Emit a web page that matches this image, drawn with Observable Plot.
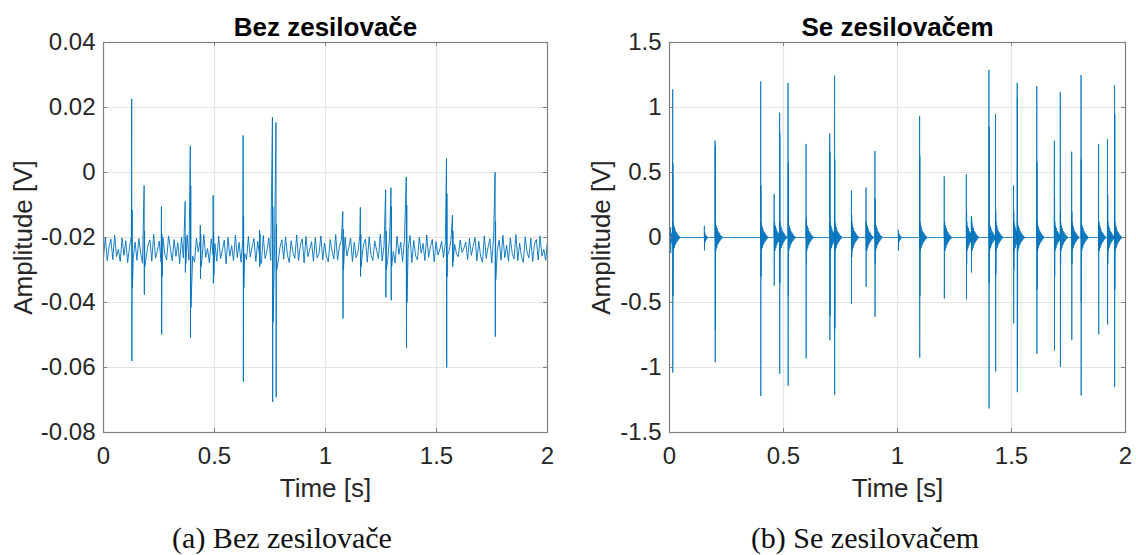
<!DOCTYPE html>
<html><head><meta charset="utf-8">
<script src="https://cdn.jsdelivr.net/npm/d3@7"></script>
<script src="https://cdn.jsdelivr.net/npm/@observablehq/plot@0.6"></script>
<style>
html,body{margin:0;padding:0;background:#fff;}
#wrap{position:relative;width:1136px;height:555px;overflow:hidden;background:#fff;}
.panel{position:absolute;top:0;}
.cap{position:absolute;top:521px;font-family:"Liberation Serif","DejaVu Serif",serif;font-size:30px;line-height:34px;color:#111;white-space:nowrap;transform:translateX(-50%);}
</style></head><body>
<div id="wrap"></div>
<script>
// ---- axis ticks ----
const xTicks = [0, 0.5, 1, 1.5, 2];
const xTickLabels = ["0", "0.5", "1", "1.5", "2"];
const leftYTicks = [-0.08, -0.06, -0.04, -0.02, 0, 0.02, 0.04];
const leftYLabels = ["-0.08", "-0.06", "-0.04", "-0.02", "0", "0.02", "0.04"];
const rightYTicks = [-1.5, -1, -0.5, 0, 0.5, 1, 1.5];
const rightYLabels = ["-1.5", "-1", "-0.5", "0", "0.5", "1", "1.5"];

const titles = ["Bez zesilovače", "Se zesilovačem"];
const captions = ["(a) Bez zesilovače", "(b) Se zesilovačem"];
const xLabel = "Time [s]";
const yLabel = "Amplitude [V]";

// ---- (a) hum baseline without amplifier: successive sample values, 0..2 s ----
const humValues = [
 -0.0262,-0.0199,-0.0271,-0.0228,-0.0205,-0.0268,-0.0193,-0.0259,-0.0236,-0.0274,-0.0201,-0.0255,-0.0210,-0.0277,-0.0230,-0.0196,-0.0265,-0.0214,-0.0270,-0.0203,
 -0.0247,-0.0279,-0.0198,-0.0260,-0.0222,-0.0207,-0.0273,-0.0190,-0.0264,-0.0240,-0.0211,-0.0276,-0.0200,-0.0251,-0.0269,-0.0195,-0.0233,-0.0272,-0.0206,-0.0258,
 -0.0216,-0.0280,-0.0199,-0.0263,-0.0226,-0.0192,-0.0270,-0.0209,-0.0257,-0.0275,-0.0202,-0.0244,-0.0212,-0.0268,-0.0191,-0.0261,-0.0234,-0.0278,-0.0204,-0.0253,
 -0.0219,-0.0273,-0.0196,-0.0266,-0.0238,-0.0208,-0.0281,-0.0200,-0.0258,-0.0225,-0.0272,-0.0193,-0.0262,-0.0215,-0.0276,-0.0205,-0.0249,-0.0268,-0.0197,-0.0260,
 -0.0229,-0.0203,-0.0274,-0.0212,-0.0256,-0.0279,-0.0194,-0.0265,-0.0241,-0.0201,-0.0270,-0.0218,-0.0261,-0.0189,-0.0275,-0.0231,-0.0207,-0.0267,-0.0198,-0.0254,
 -0.0277,-0.0210,-0.0246,-0.0264,-0.0192,-0.0271,-0.0223,-0.0204,-0.0278,-0.0197,-0.0259,-0.0237,-0.0213,-0.0273,-0.0200,-0.0263,-0.0250,-0.0195,-0.0269,-0.0217,
 -0.0258,-0.0275,-0.0206,-0.0242,-0.0266,-0.0191,-0.0270,-0.0227,-0.0209,-0.0280,-0.0199,-0.0257,-0.0232,-0.0202,-0.0274,-0.0214,-0.0262,-0.0245,-0.0193,-0.0268,
 -0.0221,-0.0205,-0.0276,-0.0198,-0.0255,-0.0271,-0.0211,-0.0239,-0.0265,-0.0190,-0.0272,-0.0226,-0.0208,-0.0267,-0.0201,-0.0260,-0.0243,-0.0279,-0.0196,-0.0252,
 -0.0215,-0.0274,-0.0203,-0.0263,-0.0235,-0.0194,-0.0277,-0.0209,-0.0256,-0.0269,-0.0199,-0.0248,-0.0218,-0.0271,-0.0192,-0.0261,-0.0228,-0.0206,-0.0275,-0.0213,
 -0.0254,-0.0238,-0.0212,-0.0262,-0.0219,-0.0257,-0.0242,-0.0210,-0.0265,-0.0221,-0.0250,-0.0259,-0.0208,-0.0246,-0.0233,-0.0214,-0.0268,-0.0203,-0.0255,-0.0227,
 -0.0200,-0.0272,-0.0211,-0.0258,-0.0276,-0.0195,-0.0264,-0.0230,-0.0204,-0.0278,-0.0197,-0.0253,-0.0240,-0.0208,-0.0270,-0.0193,-0.0262,-0.0224,-0.0273,-0.0201,
 -0.0249,-0.0266,-0.0191,-0.0271,-0.0217,-0.0259,-0.0277,-0.0198,-0.0245,-0.0263,-0.0202,-0.0274,-0.0220,-0.0206,-0.0269,-0.0195,-0.0257,-0.0236,-0.0270,-0.0210
];

// ---- (a) spikes: time, max, min, inner max, inner min ----
const aSpikeT   = [0.127, 0.183, 0.261, 0.368, 0.391, 0.436, 0.494, 0.629, 0.703, 0.761, 0.777, 1.078, 1.157, 1.271, 1.295, 1.364, 1.545, 1.572, 1.764];
const aSpikeHi  = [0.0227, -0.0040, -0.0105, -0.0089, 0.0082, -0.0162, -0.0070, 0.0114, -0.0177, 0.0170, 0.0154, -0.0120, -0.0107, -0.0053, -0.0047, -0.0014, 0.0043, -0.0131, 0.0001];
const aSpikeLo  = [-0.0580, -0.0376, -0.0498, -0.0308, -0.0508, -0.0327, -0.0341, -0.0644, -0.0290, -0.0706, -0.0692, -0.0449, -0.0320, -0.0384, -0.0393, -0.0539, -0.0600, -0.0290, -0.0505];
const aSpikeHi2 = [-0.0115, -0.0180, -0.0190, -0.0200, -0.0040, -0.0190, -0.0185, -0.0135, -0.0190, -0.0105, -0.0160, -0.0175, -0.0190, -0.0180, -0.0105, -0.0100, -0.0065, -0.0180, -0.0150];
const aSpikeLo2 = [-0.0355, -0.0290, -0.0320, -0.0280, -0.0415, -0.0290, -0.0315, -0.0355, -0.0280, -0.0460, -0.0300, -0.0300, -0.0290, -0.0300, -0.0290, -0.0400, -0.0320, -0.0275, -0.0330];

// ---- (b) spikes with amplifier: time, max, min, inner max, inner min, ring size ----
const bSpikeT   = [0.005, 0.014, 0.153, 0.200, 0.400, 0.459, 0.483, 0.520, 0.599, 0.703, 0.724, 0.798, 0.862, 0.901, 1.004, 1.097, 1.205, 1.302, 1.324, 1.401, 1.430, 1.509, 1.525, 1.611, 1.688, 1.714, 1.764, 1.805, 1.882, 1.921, 1.952];
const bSpikeHi  = [0.08, 1.14, 0.09, 0.745, 1.20, 0.335, 0.96, 1.19, 0.72, 0.80, 1.245, 0.36, 0.385, 0.665, 0.06, 0.935, 0.47, 0.485, 0.165, 1.29, 0.95, 0.40, 1.19, 1.165, 0.745, 1.12, 0.66, 1.25, 0.72, 0.755, 1.17];
const bSpikeLo  = [-0.12, -1.04, -0.10, -0.96, -1.22, -0.37, -1.05, -1.14, -0.93, -0.79, -1.21, -0.51, -0.38, -0.61, -0.10, -0.925, -0.47, -0.475, -0.27, -1.315, -1.03, -0.66, -1.19, -0.895, -0.87, -0.995, -0.79, -1.215, -0.745, -0.67, -1.15];
const bSpikeHi2 = [0.04, 0.57, 0.04, 0.70, 0.40, 0.10, 0.80, 0.58, 0.15, 0.66, 0.60, 0.18, 0.12, 0.30, 0.03, 0.63, 0.10, 0.20, 0.15, 0.85, 0.20, 0.20, 1.08, 0.58, 0.30, 0.20, 0.20, 0.60, 0.10, 0.33, 0.95];
const bSpikeLo2 = [-0.05, -0.45, -0.04, -0.71, -0.30, -0.10, -0.35, -0.45, -0.20, -0.60, -0.70, -0.15, -0.10, -0.20, -0.03, -0.45, -0.10, -0.20, -0.10, -0.35, -0.28, -0.25, -1.00, -0.40, -0.30, -0.20, -0.20, -0.50, -0.10, -0.20, -0.40];
const bSpikeRing = ["small", "big", "small", "big", "big", "big", "big", "big", "big", "big", "big", "big", "big", "big", "small", "big", "big", "big", "big", "big", "big", "big", "big", "big", "big", "big", "big", "big", "big", "big", "big"];
// decaying ringing read near the zero line after each click
const ringBig   = [0.12, -0.10, 0.09, -0.08, 0.07, -0.06, 0.05, -0.045, 0.04, -0.035, 0.03, -0.025, 0.02, -0.015, 0.012, -0.009, 0.006, -0.004];
const ringSmall = [0.03, -0.03, 0.02, -0.02, 0.012, -0.01, 0.006, -0.004];

// ---- build the tables ----
const aData = humValues.map((v, i) => ({t: 2 * i / (humValues.length - 1), v}));
aSpikeT.forEach((t, i) => {
  aData.push({t, v: aSpikeHi[i]});
  aData.push({t: t + 0.001, v: aSpikeLo[i]});
  aData.push({t: t + 0.002, v: aSpikeHi2[i]});
  aData.push({t: t + 0.003, v: aSpikeLo2[i]});
});
aData.sort((a, b) => a.t - b.t);

const bData = [{t: 0, v: 0}];
bSpikeT.forEach((t, i) => {
  bData.push({t: Math.max(0, t - 0.0005), v: 0});
  bData.push({t, v: bSpikeHi[i]});
  bData.push({t: t + 0.0005, v: bSpikeLo[i]});
  bData.push({t: t + 0.001, v: bSpikeHi2[i]});
  bData.push({t: t + 0.0015, v: bSpikeLo2[i]});
  const ring = bSpikeRing[i] === "big" ? ringBig : ringSmall;
  ring.forEach((v, k) => bData.push({t: t + 0.002 + k * 0.0018, v}));
  bData.push({t: t + 0.002 + ring.length * 0.0018, v: 0});
});
bData.push({t: 2, v: 0});
bData.sort((a, b) => a.t - b.t);

// ---- panel builder ----
const AX = "#808080", GRID = "#e4e4e4", LINE = "#0072BD";
function panel({data, yDomain, yTicks, yLabels, title, left, width, mL, mR, labelDx, lineW}) {
  const H = 505, mT = 42, mB = 73;
  const innerW = width - mL - mR, innerH = H - mT - mB;
  const p = Plot.plot({
    width, height: H, marginLeft: mL, marginRight: mR, marginTop: mT, marginBottom: mB,
    x: {domain: [0, 2]},
    y: {domain: yDomain},
    style: {fontFamily: "'Liberation Sans', Arial, sans-serif", color: "#262626", background: "transparent", overflow: "visible"},
    marks: [
      Plot.ruleX(xTicks, {stroke: GRID, strokeWidth: 1.2}),
      Plot.ruleY(yTicks, {stroke: GRID, strokeWidth: 1.2}),
      Plot.line(data, {x: "t", y: "v", stroke: LINE, strokeWidth: lineW, clip: true}),
      Plot.frame({stroke: AX, strokeWidth: 1.2}),
      Plot.tickX(xTicks, {x: d => d, insetTop: innerH - 4, stroke: AX}),
      Plot.tickX(xTicks, {x: d => d, insetBottom: innerH - 4, stroke: AX}),
      Plot.tickY(yTicks, {y: d => d, insetRight: innerW - 4, stroke: AX}),
      Plot.tickY(yTicks, {y: d => d, insetLeft: innerW - 4, stroke: AX}),
      Plot.axisX(xTicks, {tickSize: 0, tickPadding: 14, fontSize: 24, label: null,
        tickFormat: d => xTickLabels[xTicks.indexOf(d)]}),
      Plot.axisY(yTicks, {tickSize: 0, tickPadding: 8, fontSize: 24, label: null,
        tickFormat: d => yLabels[yTicks.indexOf(d)]}),
      Plot.text([title], {text: d => d, frameAnchor: "top", lineAnchor: "middle", dy: -15, fontSize: 26, fontWeight: "bold", fill: "#000"}),
      Plot.text([xLabel], {text: d => d, frameAnchor: "bottom", lineAnchor: "middle", dy: 56, fontSize: 26, fill: "#262626"}),
      Plot.text([yLabel], {text: d => d, frameAnchor: "left", textAnchor: "middle", lineAnchor: "middle", dx: labelDx, rotate: -90, fontSize: 26, fill: "#262626"})
    ]
  });
  p.classList.add("panel");
  p.style.left = left + "px";
  return p;
}

const wrap = document.getElementById("wrap");
wrap.appendChild(panel({data: aData, yDomain: [-0.08, 0.04], yTicks: leftYTicks, yLabels: leftYLabels,
  title: titles[0], left: 0, width: 568, mL: 103, mR: 21, labelDx: -80, lineW: 0.9}));
wrap.appendChild(panel({data: bData, yDomain: [-1.5, 1.5], yTicks: rightYTicks, yLabels: rightYLabels,
  title: titles[1], left: 568, width: 568, mL: 101, mR: 11, labelDx: -68, lineW: 0.8}));

[[captions[0], 282], [captions[1], 865]].forEach(([txt, cx]) => {
  const d = document.createElement("div");
  d.className = "cap";
  d.textContent = txt;
  d.style.left = cx + "px";
  wrap.appendChild(d);
});
</script>
</body></html>
